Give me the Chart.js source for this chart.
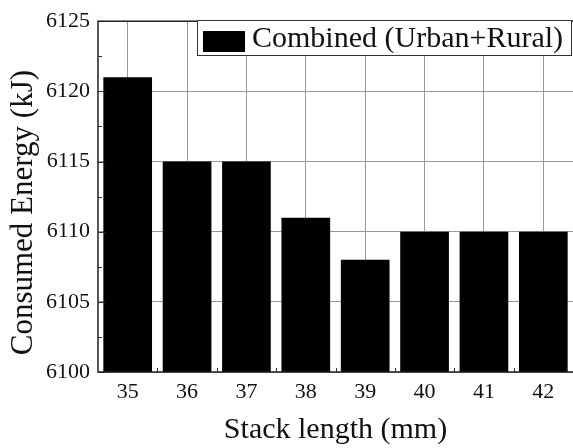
<!DOCTYPE html>
<html>
<head>
<meta charset="utf-8">
<script src="https://cdn.jsdelivr.net/npm/chart.js@4/dist/chart.umd.min.js"></script>
<style>
  html, body { margin: 0; padding: 0; background: #fff; }
  #wrap { width: 573px; height: 448px; }
</style>
</head>
<body>
<div id="wrap"><canvas id="c" width="573" height="448"></canvas></div>
<script>
const stackLengths = ['35', '36', '37', '38', '39', '40', '41', '42'];
const energyCombined = [6121, 6115, 6115, 6111, 6108, 6110, 6110, 6110];
const yTicks = [6100, 6105, 6110, 6115, 6120, 6125];
const seriesLabel = 'Combined (Urban+Rural)';
const yTitle = 'Consumed Energy (kJ)';

const serif = '"Liberation Serif", "Times New Roman", serif';

// frame, inward ticks, y title and the boxed legend inside the plot
const framePlugin = {
  id: 'frame',
  afterDraw(chart) {
    const { ctx, chartArea: a, scales } = chart;
    const x = scales.x, y = scales.y;
    ctx.save();
    ctx.strokeStyle = '#333';
    ctx.lineWidth = 1;
    // y ticks: major every 5, minor halfway
    for (let v = yTicks[0]; v <= yTicks[yTicks.length - 1]; v += 2.5) {
      const py = Math.round(y.getPixelForValue(v)) + 0.5;
      const len = (v - yTicks[0]) % 5 === 0 ? 7 : 4;
      ctx.beginPath();
      ctx.moveTo(a.left, py);
      ctx.lineTo(a.left + len, py);
      ctx.stroke();
    }
    // x minor ticks between categories
    for (let i = 0; i < stackLengths.length - 1; i++) {
      const px = Math.round((x.getPixelForValue(i) + x.getPixelForValue(i + 1)) / 2) + 0.5;
      ctx.beginPath();
      ctx.moveTo(px, a.bottom);
      ctx.lineTo(px, a.bottom - 4);
      ctx.stroke();
    }
    // plot frame
    ctx.lineWidth = 1.5;
    ctx.strokeStyle = '#222';
    ctx.strokeRect(a.left, a.top, a.right - a.left + 2, a.bottom - a.top);

    // y axis title, sits a little below the plot centre
    ctx.save();
    ctx.translate(24, (a.top + a.bottom) / 2 + 16);
    ctx.rotate(-Math.PI / 2);
    ctx.fillStyle = '#111';
    ctx.font = '31px ' + serif;
    ctx.textAlign = 'center';
    ctx.textBaseline = 'middle';
    ctx.fillText(yTitle, 0, 0);
    ctx.restore();

    // legend
    const ds = chart.data.datasets[0];
    const bx = 197.5, by = 20.5, bw = 374, bh = 35;
    ctx.fillStyle = '#fff';
    ctx.fillRect(bx, by, bw, bh);
    ctx.lineWidth = 1;
    ctx.strokeStyle = '#333';
    ctx.strokeRect(bx, by, bw, bh);
    ctx.fillStyle = ds.backgroundColor;
    ctx.fillRect(203, 31, 42, 21);
    ctx.fillStyle = '#111';
    ctx.font = '30px ' + serif;
    ctx.textBaseline = 'middle';
    ctx.textAlign = 'left';
    ctx.fillText(ds.label, 252, 39);
    ctx.restore();
  }
};

new Chart(document.getElementById('c'), {
  type: 'bar',
  data: {
    labels: stackLengths,
    datasets: [{
      label: seriesLabel,
      data: energyCombined,
      backgroundColor: '#000',
      borderWidth: 0,
      categoryPercentage: 1,
      barPercentage: 0.82
    }]
  },
  options: {
    responsive: false,
    animation: false,
    layout: { padding: { top: 16, right: 0, left: 0, bottom: 0 } },
    plugins: {
      legend: { display: false },
      tooltip: { enabled: false }
    },
    scales: {
      x: {
        afterFit(s) { s.height = 76; },
        grid: { offset: false, color: '#999', lineWidth: 1, drawTicks: false },
        border: { display: false },
        ticks: { color: '#111', font: { family: serif, size: 22 }, padding: 7, maxRotation: 0 },
        title: {
          display: true,
          text: 'Stack length (mm)',
          color: '#111',
          font: { family: serif, size: 30 },
          padding: { top: 0, bottom: 0 }
        }
      },
      y: {
        min: yTicks[0],
        max: yTicks[yTicks.length - 1],
        afterFit(s) { s.width = 98; },
        afterBuildTicks(s) { s.ticks = yTicks.map(v => ({ value: v })); },
        grid: { color: '#999', lineWidth: 1, drawTicks: false },
        border: { display: false },
        ticks: {
          color: '#111',
          font: { family: serif, size: 22 },
          padding: 8,
          callback: v => String(v)
        }
      }
    }
  },
  plugins: [framePlugin]
});
</script>
</body>
</html>
